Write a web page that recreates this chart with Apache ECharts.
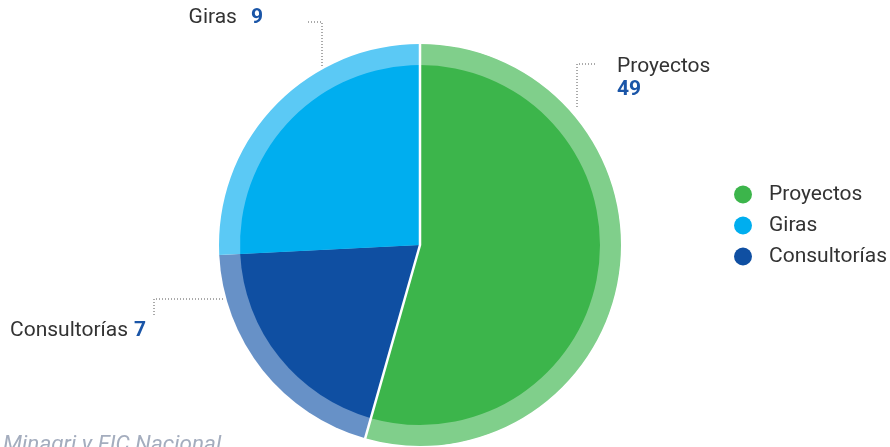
<!DOCTYPE html>
<html>
<head>
<meta charset="utf-8">
<script src="https://cdn.jsdelivr.net/npm/echarts@6/dist/echarts.min.js"></script>
<style>html,body{margin:0;padding:0;background:#fff;}#c{width:890px;height:447px;}</style>
</head>
<body>
<div id="c"></div>
<script>
// Data (clockwise from top)
var categories = ['Proyectos', 'Consultorías', 'Giras'];
var counts = [49, 7, 9];              // numbers shown in labels
var sliceShares = [54.4, 19.8, 25.8]; // slice sizes (%)
var legendOrder = ['Proyectos', 'Giras', 'Consultorías'];
var sourceText = 'Minagri y FIC Nacional';

var innerColors = ['#3cb54b', '#0f4fa2', '#00aeef'];
var outerColors = ['#80cf8b', '#6791c7', '#5bc9f5'];

var chart = echarts.init(document.getElementById('c'), null, {renderer: 'canvas'});
var FONT = 'Roboto';

function buildData(colors) {
  return categories.map(function (n, i) {
    return {name: n, value: sliceShares[i], itemStyle: {color: colors[i]}};
  });
}
function gapData() {
  return categories.map(function (n, i) {
    var st = {color: 'rgba(0,0,0,0)'};
    if (i === 0) { st.borderColor = '#ffffff'; st.borderWidth = 2.5; }
    return {name: n, value: sliceShares[i], itemStyle: st};
  });
}

// label placement (layout only)
var labelPlace = {
  'Proyectos':    {x: 617, y: 55, align: 'left', v: 'top', line: [[577, 107], [577, 64], [596, 64]]},
  'Consultorías': {x: 10, y: 331, align: 'left', v: 'middle', line: [[223, 299], [154, 299], [154, 316]]},
  'Giras':        {x: 263, y: 18, align: 'right', v: 'middle', line: [[322, 66], [322, 22], [308, 22]]}
};

var option = {
  animation: false,
  legend: {
    orient: 'vertical',
    left: 729,
    top: 179,
    data: legendOrder.map(function (n) {
      return {name: n, itemStyle: {color: innerColors[categories.indexOf(n)]}};
    }),
    icon: 'circle',
    itemWidth: 18,
    itemHeight: 18,
    itemGap: 10,
    textStyle: {fontFamily: FONT, fontSize: 21, color: '#333333', lineHeight: 20, padding: [0, 0, 0, 12]},
    selectedMode: false
  },
  graphic: [{
    type: 'text', left: 3, top: 434,
    style: {text: sourceText, fontFamily: FONT, fontStyle: 'italic', fontSize: 22.5, fill: '#a4adbe'}
  }],
  series: [
    {
      type: 'pie',
      center: [420, 245],
      radius: [0, 201],
      startAngle: 90,
      clockwise: true,
      silent: true,
      data: buildData(outerColors),
      label: {
        show: true,
        position: 'outside',
        formatter: function (p) {
          var i = categories.indexOf(p.name);
          if (p.name === 'Proyectos') return '{n|' + p.name + '}\n{v|' + counts[i] + '}';
          if (p.name === 'Giras') return '{n|' + p.name + '}{g|' + counts[i] + '}';
          return '{n|' + p.name + '}{c|' + counts[i] + '}';
        },
        rich: {
          n: {fontFamily: FONT, fontSize: 21, color: '#333333', lineHeight: 23},
          v: {fontFamily: FONT, fontSize: 21, fontWeight: 'bold', color: '#1a55a7', lineHeight: 23},
          g: {fontFamily: FONT, fontSize: 21, fontWeight: 'bold', color: '#1a55a7', lineHeight: 23, padding: [0, 0, 0, 14]},
          c: {fontFamily: FONT, fontSize: 21, fontWeight: 'bold', color: '#1a55a7', lineHeight: 23, padding: [0, 0, 0, 6]}
        }
      },
      labelLine: {show: true, lineStyle: {color: '#555555', width: 1, type: [1, 2]}},
      labelLayout: function (params) {
        var name = categories[params.dataIndex];
        var p = labelPlace[name];
        return {x: p.x, y: p.y, align: p.align, verticalAlign: p.v, labelLinePoints: p.line, hideOverlap: false};
      }
    },
    {
      type: 'pie',
      center: [420, 245],
      radius: [0, 180],
      startAngle: 90,
      clockwise: true,
      silent: true,
      data: buildData(innerColors),
      label: {show: false},
      labelLine: {show: false}
    },
    {
      type: 'pie',
      center: [420, 245],
      radius: [0, 203],
      startAngle: 90,
      clockwise: true,
      silent: true,
      z: 5,
      legendHoverLink: false,
      data: gapData(),
      label: {show: false},
      labelLine: {show: false}
    }
  ]
};
chart.setOption(option);
</script>
</body>
</html>
